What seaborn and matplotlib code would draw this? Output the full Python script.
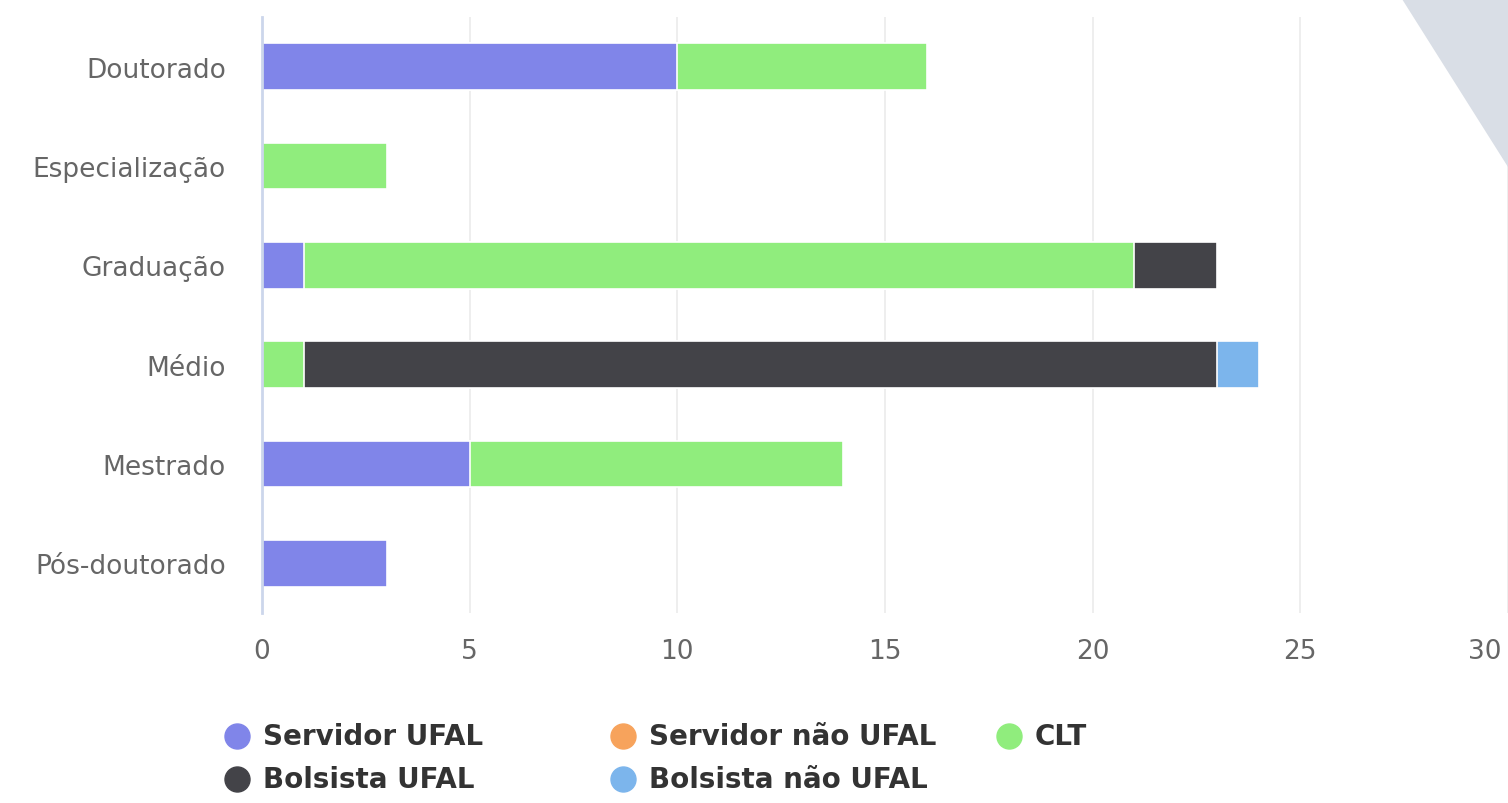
import matplotlib
matplotlib.use("Agg")
import matplotlib.pyplot as plt
import matplotlib.transforms as mtransforms
from matplotlib.lines import Line2D
from matplotlib.patches import Polygon
import numpy as np
import pandas as pd
import seaborn as sns

# dados do gráfico (empilhado por formação)
categorias = ["Doutorado", "Especialização", "Graduação", "Médio", "Mestrado", "Pós-doutorado"]
series = ["Servidor UFAL", "Servidor não UFAL", "CLT", "Bolsista UFAL", "Bolsista não UFAL"]
servidor_ufal = [10, 0, 1, 0, 5, 3]
servidor_nao_ufal = [0, 0, 0, 0, 0, 0]
clt = [6, 3, 20, 1, 9, 0]
bolsista_ufal = [0, 0, 2, 22, 0, 0]
bolsista_nao_ufal = [0, 0, 0, 1, 0, 0]
cores = ["#8085e9", "#f7a35c", "#90ed7d", "#434348", "#7cb5ec"]
x_ticks = [0, 5, 10, 15, 20, 25, 30]

valores = np.array([servidor_ufal, servidor_nao_ufal, clt, bolsista_ufal, bolsista_nao_ufal])
acumulado = valores.cumsum(axis=0)

sns.set_theme(style="white")
plt.rcParams["font.family"] = ["DejaVu Sans"]

fig = plt.figure(figsize=(15.08, 8.04), dpi=100)
ax = fig.add_axes([262 / 1508, 1 - 614 / 804, 1246 / 1508, 596 / 804])
ax.set_facecolor("none")

# triângulo decorativo no canto
fig.patches.append(Polygon([(1402 / 1508, 1), (1, 1), (1, 1 - 168 / 804)],
                           closed=True, transform=fig.transFigure,
                           facecolor="#d9dee6", edgecolor="none", zorder=0))

# desenha do maior acumulado para o menor para simular o empilhamento
for i in range(len(series) - 1, -1, -1):
    df = pd.DataFrame({"categoria": categorias, "valor": acumulado[i]})
    df.loc[valores[i] == 0, "valor"] = 0
    sns.barplot(data=df, x="valor", y="categoria", order=categorias, color=cores[i],
                width=0.47, edgecolor="white", linewidth=1.2, saturation=1,
                ax=ax, zorder=3)

ax.set_xlim(0, 30)
ax.set_xticks(x_ticks)
ax.set_xlabel("")
ax.set_ylabel("")
ax.grid(axis="x", color="#ebebeb", linewidth=1.2, zorder=0)
ax.grid(axis="y", visible=False)
for s in ["top", "right", "bottom"]:
    ax.spines[s].set_visible(False)
ax.spines["left"].set_color("#ccd6eb")
ax.spines["left"].set_linewidth(2)
ax.spines["left"].set_zorder(4)
ax.tick_params(axis="y", length=0, pad=26, labelsize=19, labelcolor="#666666")
ax.tick_params(axis="x", length=0, pad=18, labelsize=19, labelcolor="#666666")

# último rótulo do eixo x recolhido para dentro, como no highcharts
ultimo = ax.get_xticklabels()[-1]
ultimo.set_horizontalalignment("right")
ultimo.set_transform(ultimo.get_transform() +
                     mtransforms.ScaledTranslation(-6 / 100, 0, fig.dpi_scale_trans))

# legenda no estilo highcharts
leg_pos = [(237, 737), (623, 737), (1009, 737), (237, 780), (623, 780)]
for nome, cor, (px, py) in zip(series, cores, leg_pos):
    fig.add_artist(Line2D([px / 1508], [1 - py / 804], marker="o", markersize=18,
                          color=cor, linestyle="none", transform=fig.transFigure))
    fig.text((px + 26) / 1508, 1 - py / 804, nome, fontsize=20, fontweight="bold",
             color="#333333", va="center", ha="left")

fig.savefig("out.png", dpi=100)
